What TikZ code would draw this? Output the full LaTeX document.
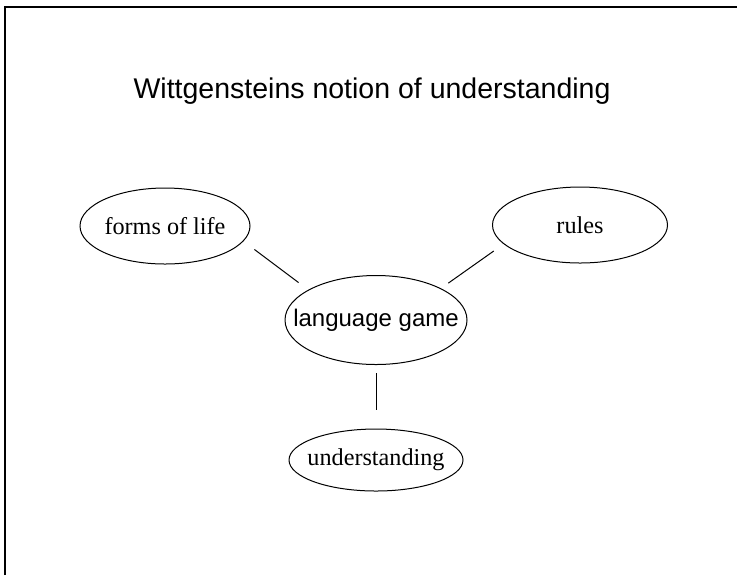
\documentclass[tikz,border=0pt]{standalone}
\usepackage{fontspec}
\setmainfont{Liberation Serif}
\setsansfont{Liberation Sans}
\usetikzlibrary{shapes.geometric}
\tikzstyle{bubble} = [ellipse, draw, line width=0.5pt, inner sep=0pt, font=\fontsize{12.1}{14}\selectfont]
\tikzstyle{link} = [line width=0.5pt]
\newcommand{\lbl}[1]{\makebox[0pt]{#1}}

\begin{document}
\begin{tikzpicture}[x=0.5pt, y=-0.5pt]
            \useasboundingbox (0,0) rectangle (737,575);
            \draw[line width=1pt] (5,575) -- (5,7) -- (737,7);
            
            \node (title) at (372,91) {\sffamily\fontsize{14.25}{16}\selectfont Wittgensteins notion of understanding};
            \node (life) [bubble, minimum width=85pt, minimum height=38pt] at (165,226) {\lbl{forms of life}};
            \node (rules) [bubble, minimum width=87.5pt, minimum height=38pt] at (580,225) {\lbl{rules}};
            \node (game) [bubble, minimum width=91pt, minimum height=44.5pt, font=\sffamily\fontsize{12}{14}\selectfont] at (376,320) {\lbl{language game}};
            \node (under) [bubble, minimum width=87pt, minimum height=31pt] at (376,460) {\lbl{understanding}};
            
            \draw[link, shorten <=6.8pt, shorten >=6pt] (life.-11.7) -- (game.156);
            \draw[link, shorten <=6pt, shorten >=4.5pt] (rules.194.6) -- (game.26.8);
            \draw[link, shorten <=4pt, shorten >=9.5pt] (game.south) -- (under.north);
        \end{tikzpicture}
\end{document}
